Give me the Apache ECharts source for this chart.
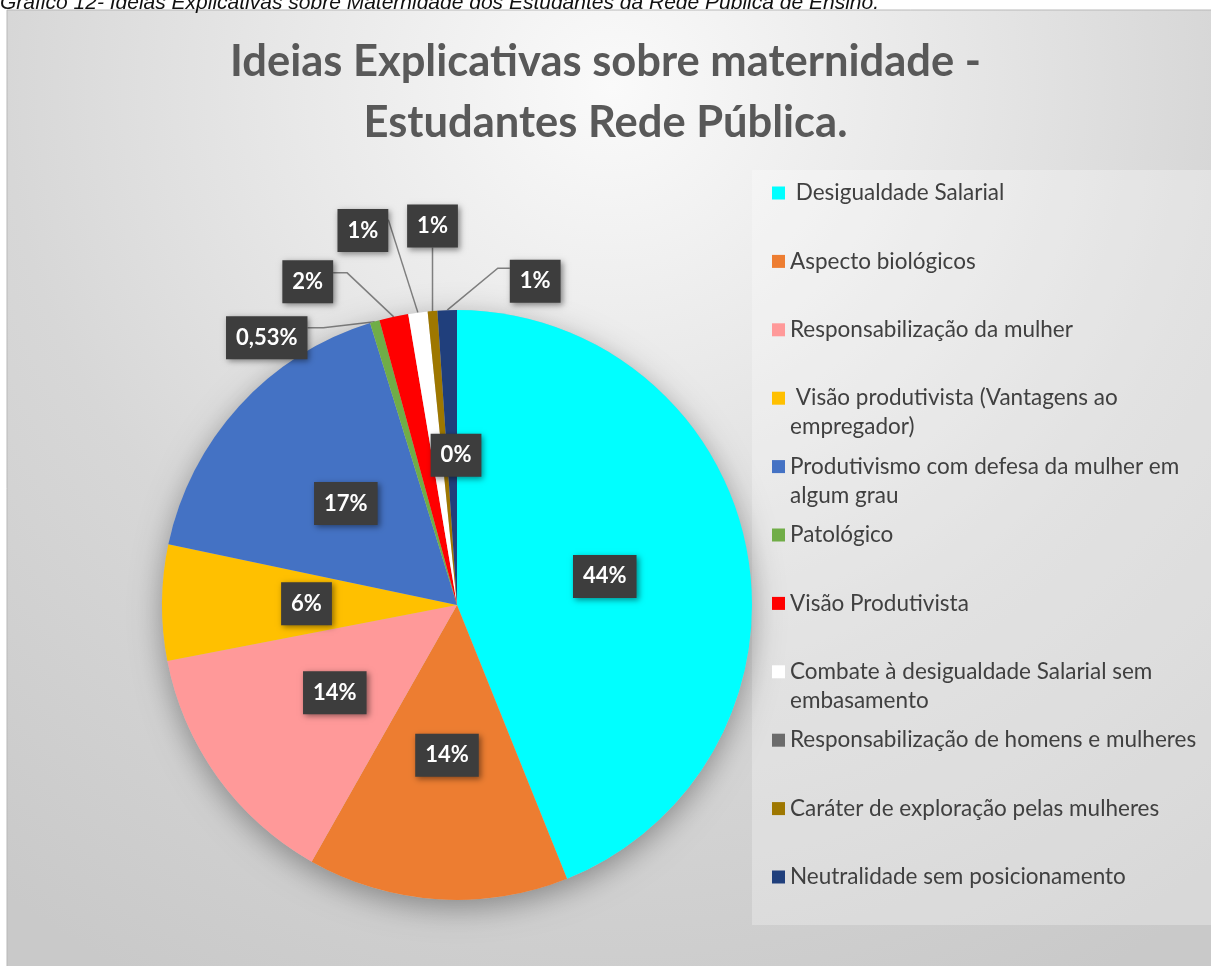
<!DOCTYPE html>
<html><head><meta charset="utf-8">
<script src="https://cdn.jsdelivr.net/npm/echarts@6/dist/echarts.min.js"></script>
<style>html,body{margin:0;padding:0;background:#fff}#c{width:1211px;height:966px}</style>
</head><body><div id="c"></div>
<script>
// ---- data ----
const caption = 'Gráfico 12- Ideias Explicativas sobre Maternidade dos Estudantes da Rede Pública de Ensino.';
const chartTitle = 'Ideias Explicativas sobre maternidade -\nEstudantes Rede Pública.';
const categories = [' Desigualdade Salarial', 'Aspecto biológicos', 'Responsabilização da mulher',
  ' Visão produtivista (Vantagens ao empregador)', 'Produtivismo com defesa da mulher em algum grau',
  'Patológico', 'Visão Produtivista', 'Combate à desigualdade Salarial sem embasamento',
  'Responsabilização de homens e mulheres', 'Caráter de exploração pelas mulheres',
  'Neutralidade sem posicionamento'];
const legendLabels = [' Desigualdade Salarial', 'Aspecto biológicos', 'Responsabilização da mulher',
  ' Visão produtivista (Vantagens ao\nempregador)', 'Produtivismo com defesa da mulher em\nalgum grau',
  'Patológico', 'Visão Produtivista', 'Combate à desigualdade Salarial sem\nembasamento',
  'Responsabilização de homens e mulheres', 'Caráter de exploração pelas mulheres',
  'Neutralidade sem posicionamento'];
const values = [83, 27, 26, 12, 32, 1, 3, 2, 0, 1, 2];
const dataLabels = ['44%', '14%', '14%', '6%', '17%', '0,53%', '2%', '1%', '0%', '1%', '1%'];

// ---- styles ----
const colors = ['#00FFFF', '#ED7D31', '#FF9999', '#FFC000', '#4472C4', '#70AD47', '#FF0000', '#FFFFFF', '#6B6B6B', '#9E7700', '#203F7C'];
const placement = [null, null, null, null, null,
  {out: true, dx: -108, dy: 16, side: 'right', ey: -10, len: 16},
  {out: true, dx: -86, dy: -35, side: 'right', ey: -9, len: 14},
  {out: true, dx: -55, dy: -82, side: 'right', ey: -11, len: 0},
  {dx: 14, dy: 0},
  {out: true, dx: 0, dy: -85, side: 'bottom', ey: 0, len: 0},
  {out: true, dx: 88, dy: -29, side: 'left', ey: -13, len: 12}
];

const total = values.reduce((a, b) => a + b, 0);
const L = 29, step = 68.4, firstY = 193, ICON = 13;
// icon for wrapped legend entries: square at top of a taller box (so it sits beside the first line)
const tallIcon = 'path://M0,0L13,0L13,13L0,13Z M0,' + (L + ICON) + 'L0,' + (L + ICON);

const chart = echarts.init(document.getElementById('c'), null, {renderer: 'canvas'});
chart.setOption({
  animation: false,
  graphic: [
    {type: 'rect', z: -20, silent: true, shape: {x: 7, y: 10, width: 1210, height: 962},
      style: {fill: {type: 'radial', x: 0.5, y: 0.08, r: 1.05, colorStops: [
        {offset: 0, color: '#fafafa'}, {offset: 0.3, color: '#e9e9e9'}, {offset: 0.6, color: '#d7d7d7'}, {offset: 1, color: '#c9c9c9'}]},
        stroke: '#b8b8b8', lineWidth: 1}},
    {type: 'rect', z: -19, silent: true, shape: {x: 752, y: 170, width: 462, height: 755},
      style: {fill: 'rgba(255,255,255,0.28)'}},
    {type: 'text', z: 10, silent: true, x: 0, y: 14,
      style: {text: caption, font: 'italic 21px "Liberation Sans", Arial', fill: '#111', verticalAlign: 'bottom'}}
  ],
  title: {
    text: chartTitle, left: 'center', top: 26,
    textStyle: {fontFamily: 'Lato', fontWeight: 'bold', fontSize: 43.5, lineHeight: 61, color: '#595959'}
  },
  legend: categories.map((name, i) => {
    const two = legendLabels[i].indexOf('\n') >= 0;
    return {
      data: [name], left: 772, top: firstY + i * step - L / 2,
      orient: 'vertical', padding: 0, itemGap: 0, itemWidth: ICON,
      itemHeight: two ? L + ICON : ICON, icon: two ? tallIcon : 'rect',
      selectedMode: false, formatter: () => legendLabels[i],
      textStyle: {fontFamily: 'Lato', fontSize: 22.5, color: '#404040', lineHeight: L}
    };
  }),
  series: [
    {
      type: 'pie', center: [457, 605], radius: 295, silent: true,
      data: [{value: total, name: 'total'}],
      label: {show: false}, labelLine: {show: false},
      itemStyle: {color: '#c0c0c0', shadowBlur: 30, shadowColor: 'rgba(0,0,0,0.35)', shadowOffsetY: 8}
    },
    {
      type: 'pie', center: [457, 605], radius: 295, startAngle: 90, clockwise: true,
      avoidLabelOverlap: false,
      data: categories.map((name, i) => {
        const p = placement[i];
        const item = {name: name, value: values[i], itemStyle: {color: colors[i]}};
        if (p && p.out) {
          item.label = {position: 'outside'};
          item.labelLine = {show: true, length: 10, length2: 10};
        }
        return item;
      }),
      itemStyle: {borderWidth: 0},
      label: {
        show: true, position: 'inside',
        formatter: (p) => dataLabels[p.dataIndex],
        fontFamily: 'Lato', fontWeight: 'bold', fontSize: 22, lineHeight: 25, color: '#ffffff',
        backgroundColor: '#3d3d3d', padding: [9, 10, 9, 10],
        shadowBlur: 6, shadowColor: 'rgba(0,0,0,0.45)', shadowOffsetX: 2, shadowOffsetY: 2
      },
      labelLine: {show: false, lineStyle: {color: '#7f7f7f', width: 1.5}},
      labelLayout: function (p) {
        const pl = placement[p.dataIndex];
        if (!pl) return {};
        if (!pl.out) return {dx: pl.dx, dy: pl.dy};
        const a = p.labelLinePoints ? p.labelLinePoints[0] : null;
        if (!a) return {};
        const w = p.labelRect.width, h = p.labelRect.height;
        const cx = a[0] + pl.dx, cy = a[1] + pl.dy;
        let end, elbow;
        if (pl.side === 'right') { end = [cx + w / 2, cy + pl.ey]; elbow = [end[0] + pl.len, end[1]]; }
        else if (pl.side === 'left') { end = [cx - w / 2, cy + pl.ey]; elbow = [end[0] - pl.len, end[1]]; }
        else { end = [cx, cy + h / 2]; elbow = [cx, cy + h / 2]; }
        return {x: cx, y: cy, align: 'center', verticalAlign: 'middle', labelLinePoints: [[a[0], a[1]], elbow, end]};
      }
    }
  ]
});
</script>
</body></html>
